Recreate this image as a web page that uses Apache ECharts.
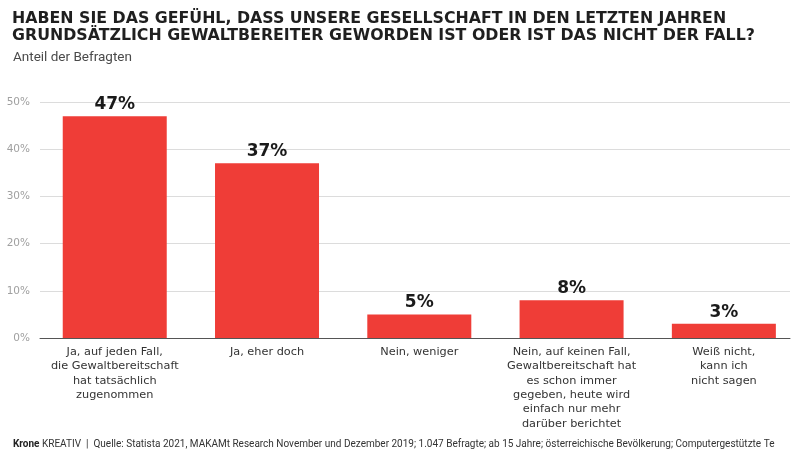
<!DOCTYPE html>
<html><head><meta charset="utf-8">
<script src="https://cdn.jsdelivr.net/npm/echarts@6/dist/echarts.min.js"></script>
<style>html,body{margin:0;padding:0;background:#fff}#c{width:800px;height:452px}</style>
</head><body><div id="c"></div>
<script>
var titleLines = ['HABEN SIE DAS GEFÜHL, DASS UNSERE GESELLSCHAFT IN DEN LETZTEN JAHREN', 'GRUNDSÄTZLICH GEWALTBEREITER GEWORDEN IST ODER IST DAS NICHT DER FALL?'];
var subtitle = 'Anteil der Befragten';
var categories = [
  'Ja, auf jeden Fall,\ndie Gewaltbereitschaft\nhat tatsächlich\nzugenommen',
  'Ja, eher doch',
  'Nein, weniger',
  'Nein, auf keinen Fall,\nGewaltbereitschaft hat\nes schon immer\ngegeben, heute wird\neinfach nur mehr\ndarüber berichtet',
  'Weiß nicht,\nkann ich\nnicht sagen'
];
var values = [47, 37, 5, 8, 3];
var yTicks = [0, 10, 20, 30, 40, 50];
var footerBrand = 'Krone';
var footerText = ' KREATIV  |  Quelle: Statista 2021, MAKAMt Research November und Dezember 2019; 1.047 Befragte; ab 15 Jahre; österreichische Bevölkerung; Computergestützte Te';

var wide = '"DejaVu Sans", sans-serif';
var body = 'Roboto, "Noto Sans", sans-serif';
var chart = echarts.init(document.getElementById('c'), null, {renderer: 'canvas'});
chart.setOption({
  animation: false,
  backgroundColor: '#ffffff',
  title: [
    {left: 7, top: 5, text: titleLines.join('\n'),
     textStyle: {fontFamily: wide, fontWeight: 'bold', fontSize: 15.8, color: '#1f1f1f', lineHeight: 17.5}},
    {left: 8, top: 46, text: subtitle,
     textStyle: {fontFamily: body, fontWeight: 'normal', fontSize: 13.5, color: '#4a4a4a'}},
    {left: 8, top: 434, text: '{b|' + footerBrand + '}' + footerText,
     textStyle: {fontFamily: body, fontWeight: 'normal', fontSize: 10, color: '#333',
       rich: {b: {fontFamily: body, fontWeight: 'bold', fontSize: 10, color: '#222'}}}}
  ],
  grid: [
    {left: 38.6, width: 764, top: 102, bottom: 114},
    {left: 40, right: 10, top: 102, bottom: 114}
  ],
  xAxis: [
    {type: 'category', gridIndex: 0, data: categories,
     axisLine: {show: false}, axisTick: {show: false},
     axisLabel: {interval: 0, margin: 7, fontFamily: wide, fontSize: 11.3, color: '#333', lineHeight: 14.3, align: 'center'}},
    {type: 'category', gridIndex: 1, data: [''],
     axisLine: {show: true, lineStyle: {color: '#555', width: 1}}, axisTick: {show: false}, axisLabel: {show: false}}
  ],
  yAxis: [
    {type: 'value', gridIndex: 0, min: 0, max: 50, interval: 10, show: false, splitLine: {show: false}},
    {type: 'value', gridIndex: 1, min: 0, max: 50, interval: 10,
     axisLine: {show: false}, axisTick: {show: false},
     axisLabel: {formatter: '{value}%', fontFamily: wide, fontSize: 10.5, color: '#a0a0a0', margin: 10},
     splitLine: {show: true, lineStyle: {color: '#dcdcdc', width: 1}}}
  ],
  series: [{
    type: 'bar', xAxisIndex: 0, yAxisIndex: 0, data: values, barWidth: 104,
    itemStyle: {color: '#ef3d37'},
    label: {show: true, position: 'top', distance: 3, formatter: '{c}%',
      fontFamily: wide, fontWeight: 'bold', fontSize: 17, color: '#1a1a1a'}
  }]
});
</script></body></html>
